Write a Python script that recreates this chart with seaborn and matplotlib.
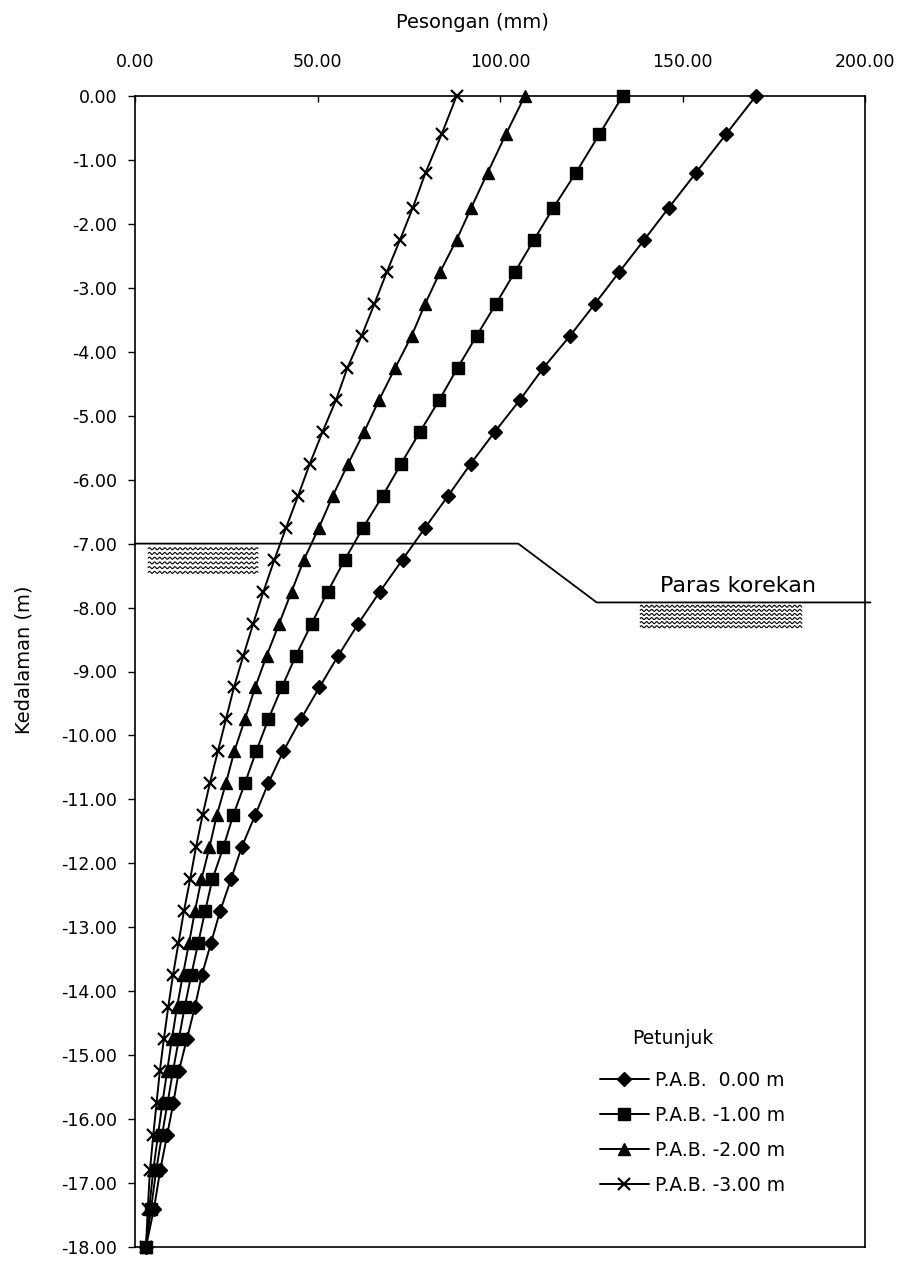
import numpy as np
import pandas as pd
import matplotlib
matplotlib.use("Agg")
import matplotlib.pyplot as plt
from matplotlib.ticker import FuncFormatter
import seaborn as sns

# Depth of each computation node (m)
depth_m = [0.00, -0.60, -1.20, -1.75, -2.25, -2.75, -3.25, -3.75, -4.25, -4.75,
           -5.25, -5.75, -6.25, -6.75, -7.25, -7.75, -8.25, -8.75, -9.25, -9.75,
           -10.25, -10.75, -11.25, -11.75, -12.25, -12.75, -13.25, -13.75, -14.25,
           -14.75, -15.25, -15.75, -16.25, -16.80, -17.40, -18.00]

# Wall deflection (mm) for each groundwater level (P.A.B.)
pab_0 = [170.1, 161.9, 153.7, 146.2, 139.5, 132.7, 126.0, 119.2, 111.9, 105.5,
         98.6, 92.0, 85.8, 79.5, 73.3, 67.1, 61.2, 55.7, 50.5, 45.4,
         40.6, 36.5, 32.9, 29.2, 26.3, 23.3, 20.8, 18.3, 16.4, 14.2,
         12.0, 10.5, 8.8, 6.9, 5.2, 3.0]
pab_1 = [133.6, 127.2, 120.8, 114.6, 109.3, 104.1, 98.9, 93.6, 88.4, 83.4,
         78.1, 72.9, 67.9, 62.5, 57.5, 52.8, 48.4, 44.1, 40.2, 36.5,
         33.2, 30.1, 26.9, 24.2, 21.2, 19.2, 17.3, 15.4, 13.6, 12.0,
         10.4, 8.9, 7.4, 5.8, 4.4, 3.0]
pab_2 = [106.8, 101.6, 96.6, 92.1, 88.1, 83.6, 79.5, 75.8, 71.3, 66.9,
         62.8, 58.4, 54.2, 50.4, 46.3, 42.9, 39.5, 36.1, 32.9, 30.1,
         27.2, 24.9, 22.4, 20.4, 18.2, 16.4, 14.8, 13.1, 11.5, 10.1,
         8.8, 7.5, 6.3, 5.0, 3.9, 3.0]
pab_3 = [88.1, 84.0, 79.6, 76.1, 72.6, 69.0, 65.6, 62.1, 58.2, 55.1,
         51.4, 47.9, 44.7, 41.4, 38.2, 35.2, 32.4, 29.7, 27.1, 24.9,
         22.7, 20.5, 18.5, 16.7, 15.1, 13.4, 11.9, 10.4, 9.1, 7.9,
         6.8, 5.9, 5.0, 4.1, 3.5, 3.0]

series_labels = ["P.A.B.  0.00 m", "P.A.B. -1.00 m", "P.A.B. -2.00 m", "P.A.B. -3.00 m"]
x_ticks = [0, 50, 100, 150, 200]
y_ticks = [0, -1, -2, -3, -4, -5, -6, -7, -8, -9, -10, -11, -12, -13, -14, -15, -16, -17, -18]

# Ground profile: original ground, slope and excavation level
ground_x = [0.0, 105.0, 126.5, 201.5]
ground_y = [-7.00, -7.00, -7.92, -7.92]

df = pd.concat([
    pd.DataFrame({"Pesongan": vals, "Kedalaman": depth_m, "Siri": lab})
    for vals, lab in zip([pab_0, pab_1, pab_2, pab_3], series_labels)
], ignore_index=True)

sns.set_theme(style="white")
plt.rcParams["font.family"] = ["DejaVu Sans"]
plt.rcParams["text.color"] = "black"

W, H = 902, 1261
fig = plt.figure(figsize=(W / 100, H / 100), dpi=100)
ax_l, ax_r, ax_t, ax_b = 135, 865, 96, 1247
ax = fig.add_axes([ax_l / W, 1 - ax_b / H, (ax_r - ax_l) / W, (ax_b - ax_t) / H])

marker_style = {
    series_labels[0]: dict(marker="D", markersize=7.5, mew=1.0),
    series_labels[1]: dict(marker="s", markersize=8.5, mew=1.0),
    series_labels[2]: dict(marker="^", markersize=9, mew=1.0),
    series_labels[3]: dict(marker="x", markersize=9, mew=1.6),
}

for lab in series_labels:
    sub = df[df["Siri"] == lab]
    st = marker_style[lab]
    sns.lineplot(data=sub, x="Pesongan", y="Kedalaman", ax=ax, sort=False,
                 estimator=None, color="black", linewidth=1.4,
                 marker=st["marker"], markersize=st["markersize"],
                 mec="black", mfc="black", mew=st["mew"], label=lab,
                 clip_on=False, zorder=3)

# Ground line and excavation level
ax.plot(ground_x, ground_y, color="black", linewidth=1.3, clip_on=False, zorder=2)


def soil_texture(x0, x1, top, bottom, rows=6):
    xs = np.linspace(x0, x1, 400)
    for yy in np.linspace(top, bottom, rows):
        ax.plot(xs, yy + 0.016 * np.sin(2 * np.pi * (xs - x0) / 1.4),
                color="black", linewidth=0.8, zorder=1)


soil_texture(3.6, 33.7, -7.08, -7.45)
soil_texture(138.4, 182.7, -7.98, -8.30)

ax.set_xlim(0, 200)
ax.set_ylim(-18, 0)
ax.xaxis.tick_top()
ax.set_xticks(x_ticks)
ax.set_yticks(y_ticks)
fmt = FuncFormatter(lambda v, p: f"{v + 0.0:.2f}")
ax.xaxis.set_major_formatter(fmt)
ax.yaxis.set_major_formatter(fmt)
ax.tick_params(axis="x", which="major", direction="in", length=4, width=1.0,
               pad=18, labelsize=12.5, colors="black", top=True, bottom=False)
ax.tick_params(axis="y", which="major", direction="out", length=5, width=1.0,
               pad=8, labelsize=12.5, colors="black", left=True, right=False)
ax.set_xlabel("")
ax.set_ylabel("")
for sp in ax.spines.values():
    sp.set_color("black")
    sp.set_linewidth(1.2)
    sp.set_visible(True)

# Axis titles
fig.text(472 / W, 1 - 22 / H, "Pesongan (mm)", ha="center", va="center",
         fontsize=14, color="black")
fig.text(24 / W, 1 - 660 / H, "Kedalaman (m)", ha="center", va="center",
         rotation=90, fontsize=14, color="black")

# Excavation label
ax.text((660 - ax_l) / (ax_r - ax_l), (ax_b - 592) / (ax_b - ax_t), "Paras korekan",
        transform=ax.transAxes, ha="left", va="baseline", fontsize=16, color="black")

# Legend
ax.text((632 - ax_l) / (ax_r - ax_l), (ax_b - 1038) / (ax_b - ax_t), "Petunjuk",
        transform=ax.transAxes, ha="left", va="center", fontsize=13.5, color="black")
leg = ax.legend(loc="upper left",
                bbox_to_anchor=((600 - ax_l) / (ax_r - ax_l), (ax_b - 1071) / (ax_b - ax_t)),
                frameon=False, fontsize=13.5, handlelength=2.6, handletextpad=0.35,
                labelspacing=0.85, borderpad=0, borderaxespad=0, labelcolor="black")

fig.savefig("out.png", dpi=100)
